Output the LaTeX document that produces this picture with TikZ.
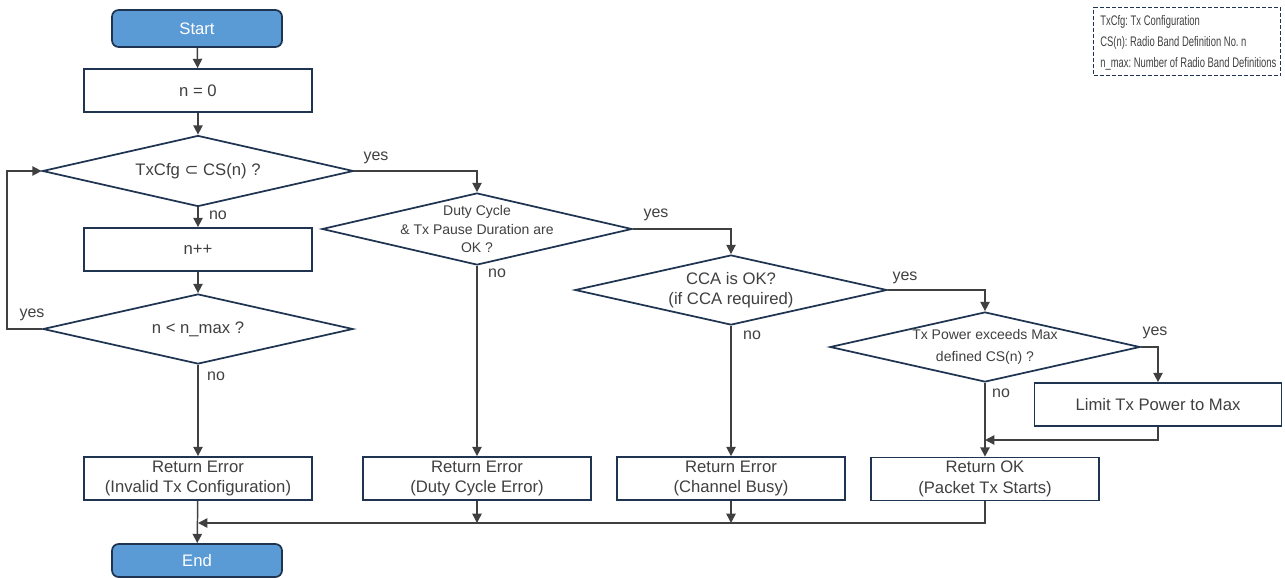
\documentclass[tikz,border=0pt]{standalone}
\usepackage{fontspec}
\setmainfont{Liberation Sans}
\newfontfamily\symfont{DejaVu Sans}
\newfontfamily\narrowfont[FakeStretch=0.68]{Liberation Sans}
\usetikzlibrary{shapes.geometric,arrows.meta,calc}
\definecolor{txt}{HTML}{404040}
\definecolor{bord}{HTML}{1F3450}
\definecolor{blu}{HTML}{5B9BD5}
\definecolor{conn}{HTML}{404040}
\begin{document}
\frenchspacing
\begin{tikzpicture}[x=0.75pt,y=-0.75pt,
  box/.style={draw=bord,line width=1.3pt,fill=white,minimum width=171pt,minimum height=32.25pt,inner sep=0pt,font=\fontsize{12.5}{15.5}\selectfont,text=txt,align=center},
  term/.style={draw=bord,line width=1.3pt,fill=blu,rounded corners=5pt,minimum width=127.5pt,inner sep=0pt,font=\fontsize{12.5}{15}\selectfont,text=white},
  dia/.style={diamond,draw=bord,line width=1.3pt,inner sep=0pt,fill=white},
  dtext/.style={font=\fontsize{12.5}{15}\selectfont,text=txt,align=center,inner sep=0pt},
  stext/.style={font=\fontsize{10.5}{14}\selectfont,text=txt,align=center,inner sep=0pt},
  lbl/.style={font=\fontsize{12}{14}\selectfont,text=txt,inner sep=0pt},
  arr/.style={draw=conn,line width=1.1pt,-{Triangle[length=7pt,width=7pt]}},
  legbox/.style={draw=bord,line width=0.9pt,dash pattern=on 3pt off 1.5pt,minimum width=140.25pt,minimum height=51pt,inner sep=0pt,anchor=north west},
  legtext/.style={align=left,font=\narrowfont\fontsize{10.4}{15.75}\selectfont,text=txt,anchor=west,inner sep=0pt}
]
\useasboundingbox (0,0) rectangle (1285,578);

% terminals
\node[term,minimum height=27.75pt] (start) at (197,28.5) {Start};
\node[term,minimum height=24.75pt] (end) at (197,560.5) {End};

% boxes
\node[box] (n0) at (198,90.5) {n = 0};
\node[box] (npp) at (198,249.5) {n++};
\node[box] (re1) at (198,478.5) {Return Error\\(Invalid Tx Configuration)};
\node[box] (re2) at (477,478.5) {Return Error\\(Duty Cycle Error)};
\node[box] (re3) at (731,478.5) {Return Error\\(Channel Busy)};
\node[box] (rok) at (985,479) {Return OK\\(Packet Tx Starts)};
\node[box,minimum width=185.25pt] (lim) at (1158,404.5) {Limit Tx Power to Max};

% diamonds
\node[dia,minimum width=233.25pt,minimum height=53.25pt] (d1) at (198,171) {};
\node[dtext] (d1t) at (d1) {TxCfg {\symfont ⊂} CS(n) ?};
\node[dia,minimum width=232.5pt,minimum height=52.5pt] (d3) at (198,329) {};
\node[dtext] (d3t) at (d3) {n < n\_max ?};
\node[dia,minimum width=232.5pt,minimum height=54pt] (d2) at (477,229) {};
\node[stext] (d2t) at (d2) {Duty Cycle\\\& Tx Pause Duration are\\OK ?};
\node[dia,minimum width=234pt,minimum height=52.5pt] (d4) at (731,290) {};
\node[dtext] (d4t) at (d4) {CCA is OK?\\(if CCA required)};
\node[dia,minimum width=232.5pt,minimum height=52.5pt] (d5) at (985,347) {};
\node[stext,font=\fontsize{10.5}{16.5}\selectfont] (d5t) at (d5) {Tx Power exceeds Max\\defined CS(n) ?};

% legend
\node[legbox] (leg) at (1093,7) {};
\node[legtext] (legt) at (1100,43) {TxCfg: Tx Configuration\\CS(n): Radio Band Definition No. n\\n\_max: Number of Radio Band Definitions};

% coordinates
\coordinate (mj) at (985,440);
\coordinate (bj) at (198,523);

% connectors
\draw[arr] (start) -- (n0);
\draw[arr] (n0) -- (d1);
\draw[arr] (d1) -- (npp);
\draw[arr] (npp) -- (d3);
\draw[arr] (d3.west) -- ++(-35,0) |- (d1.west);
\draw[arr] (d3) -- (re1);
\draw[arr] (d1.east) -| (d2.north);
\draw[arr] (d2) -- (re2);
\draw[arr] (d2.east) -| (d4.north);
\draw[arr] (d4) -- (re3);
\draw[arr] (d4.east) -| (d5.north);
\draw[arr] (d5.east) -| (lim.north);
\draw[arr] (d5) -- (rok);
\draw[arr] (lim.south) |- (mj);
\draw[arr] (re1) -- (end);
\draw[arr] (rok.south) |- (bj);
\draw[arr] (re2.south) -- (re2.south |- bj);
\draw[arr] (re3.south) -- (re3.south |- bj);

% labels
\node[lbl] (l1) at (376,158) {yes};
\node[lbl] (l2) at (218,215) {no};
\node[lbl] (l3) at (32,315) {yes};
\node[lbl] (l4) at (216,376) {no};
\node[lbl] (l5) at (656,215) {yes};
\node[lbl] (l6) at (497,273) {no};
\node[lbl] (l7) at (905,278) {yes};
\node[lbl] (l8) at (752,335) {no};
\node[lbl] (l9) at (1155,333) {yes};
\node[lbl] (l10) at (1001,393) {no};
\end{tikzpicture}
\end{document}
